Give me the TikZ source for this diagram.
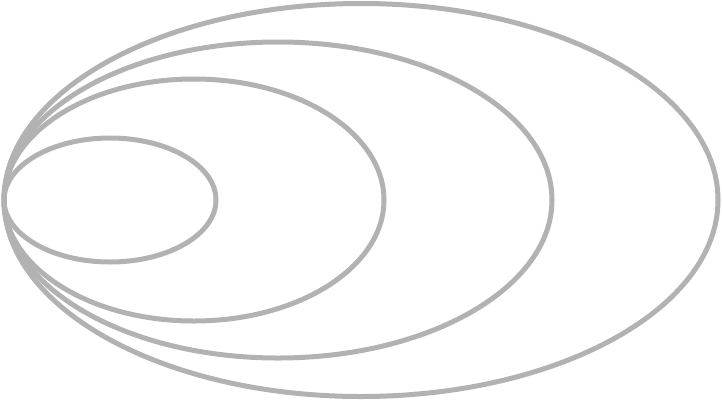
\documentclass[tikz,border=0pt]{standalone}
\begin{document}
\begin{tikzpicture}[x=1pt,y=-1pt,ring/.style={draw=black!30,line width=5pt}]
\useasboundingbox (0,0) rectangle (722,400);
\draw[ring] (361,200) ellipse [x radius=357,y radius=196.5];
\draw[ring] (278,200) ellipse [x radius=274,y radius=158];
\draw[ring] (194,200) ellipse [x radius=190,y radius=121];
\draw[ring] (110,200) ellipse [x radius=106,y radius=62];
\end{tikzpicture}
\end{document}
